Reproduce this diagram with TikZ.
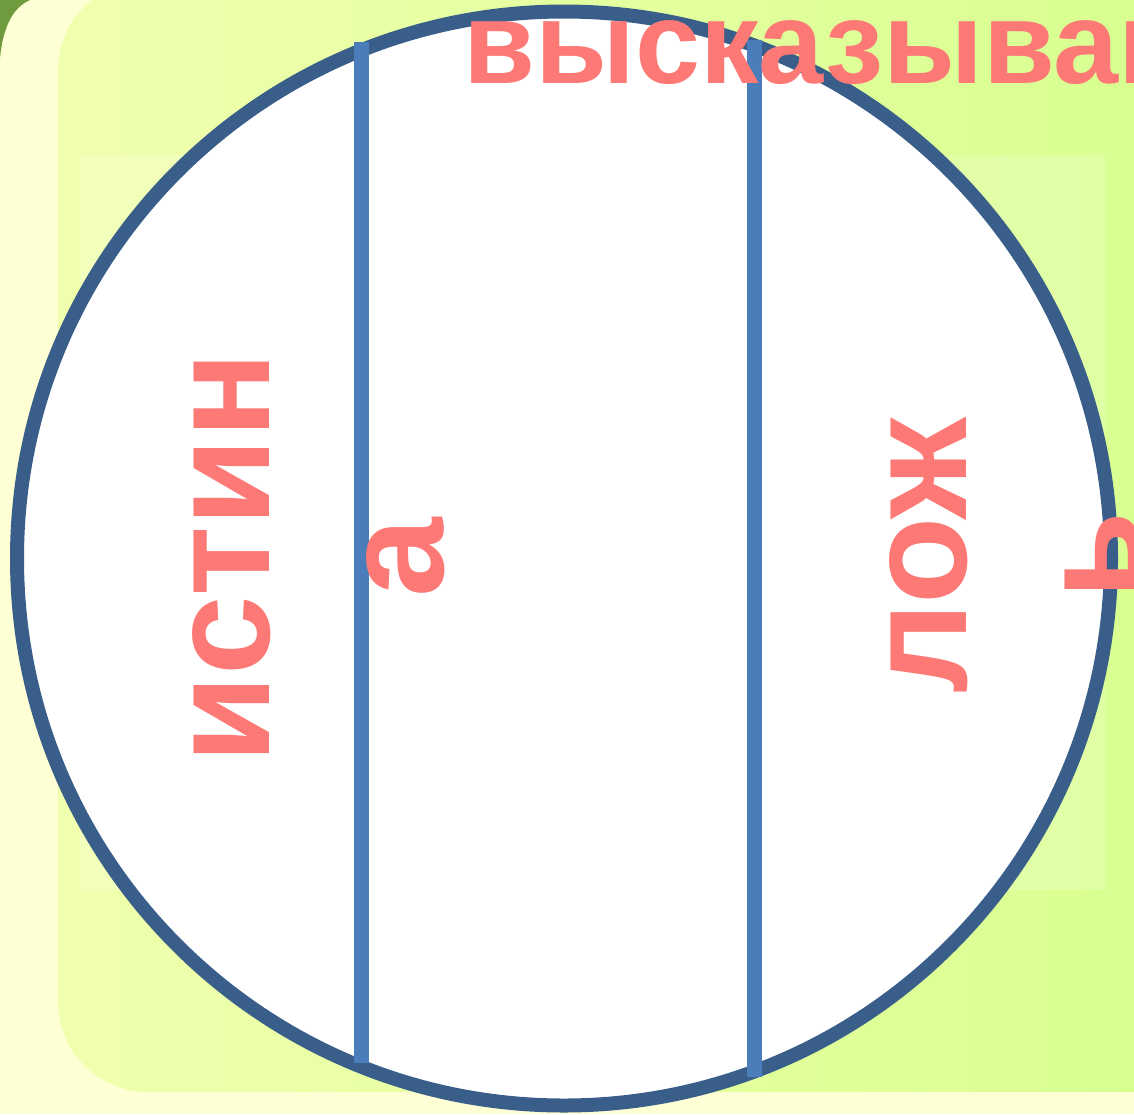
\documentclass[tikz,border=0pt]{standalone}
\usepackage{fontspec}
\setmainfont{Liberation Sans}
\definecolor{ringblue}{HTML}{3A5E8A}
\definecolor{barblue}{HTML}{4A7DBA}
\definecolor{salmon}{HTML}{FD7976}
\definecolor{cream}{HTML}{FFFFD6}
\definecolor{panelL}{HTML}{F0FFAE}
\definecolor{panelR}{HTML}{D6FF8E}
\definecolor{cornergreen}{HTML}{6F9A3E}
\begin{document}
\begin{tikzpicture}[x=1pt,y=-1pt,
  bigword/.style={text=salmon, font=\fontsize{143pt}{174pt}\selectfont\bfseries, inner sep=0pt, rotate=90, anchor=base},
  titleword/.style={text=salmon, font=\fontsize{117pt}{140pt}\selectfont\bfseries, inner sep=0pt, anchor=base west},
  divider/.style={barblue, line width=15pt},
  ring/.style={draw=ringblue, fill=white, line width=14pt}]
\useasboundingbox (0,0) rectangle (1134,1114);
\clip (0,0) rectangle (1134,1114);
% background
\fill[cream] (0,0) rectangle (1134,1114);
\shade[left color=panelL, right color=panelR, rounded corners=90pt] (58,-20) rectangle (1250,1092);
\fill[white, opacity=0.18] (80,155) rectangle (1105,890);
\fill[cornergreen] (0,0) -- (30,0) .. controls (12,8) and (3,28) .. (0,58) -- cycle;
% circle
\node[ring, circle, minimum size=1094pt, inner sep=0pt] (disc) at (564,558.5) {};
% dividers
\coordinate (a1) at (361,42);
\coordinate (a2) at (361,1063);
\coordinate (b1) at (754,40);
\coordinate (b2) at (754,1077);
\draw[divider] (a1) -- (a2);
\draw[divider] (b1) -- (b2);
% texts
\node[bigword] (t1) at (269,558) {истин};
\node[bigword] (t2) at (443,558) {а};
\node[bigword] (f1) at (966,556) {лож};
\node[bigword] (f2) at (1140,556) {ь};
\node[titleword] (title) at (463,83) {высказывание};
\end{tikzpicture}
\end{document}
